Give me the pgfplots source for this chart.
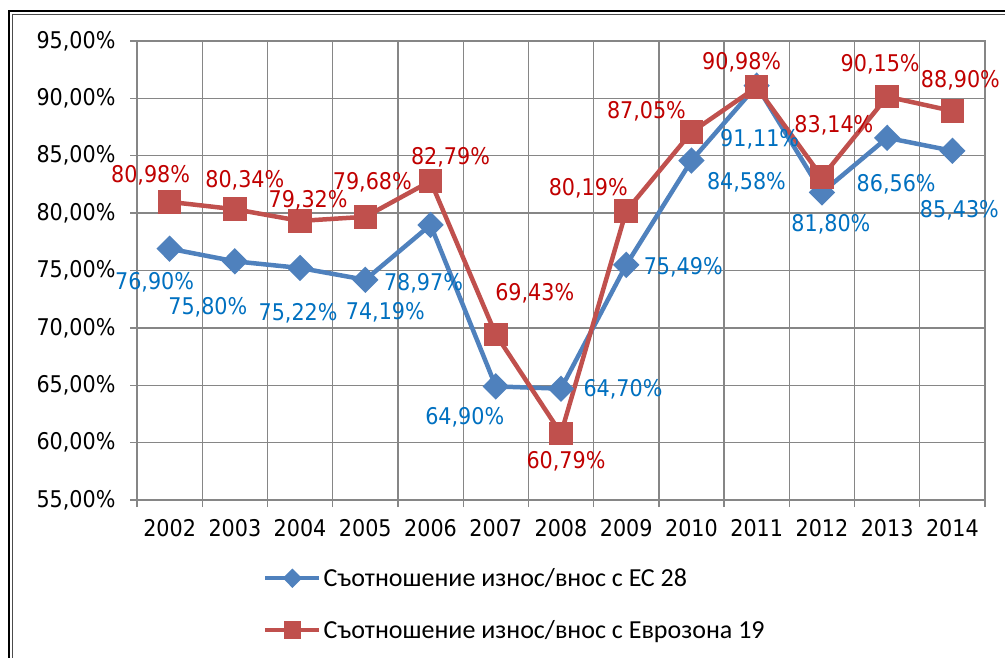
\documentclass[border=0pt]{standalone}
\usepackage{pgfplots}
\pgfplotsset{compat=1.18}
\usepackage{pgfplotstable}
\usepackage{fontspec}
\setmainfont{DejaVu Sans}[FakeStretch=0.9]
\newfontfamily\legfont{Carlito}
\definecolor{eublue}{RGB}{79,129,189}
\definecolor{ezred}{RGB}{192,80,77}
\definecolor{lblue}{RGB}{0,112,192}
\definecolor{lred}{RGB}{192,0,0}
\definecolor{gridgray}{RGB}{134,134,134}

\pgfplotstableread{
x y dx dy
0 76.90 -15 -34
1 75.80 -27 -46
2 75.22 -2 -45
3 74.19 20 -33
4 78.97 -7 -58
5 64.90 -31 -31
6 64.70 62 -1
7 75.49 57 -2
8 84.58 55 -22
9 91.11 3 -54
10 81.80 9 -32
11 86.56 9 -46
12 85.43 7 -59
}\eu
\pgfplotstableread{
x y dx dy
0 80.98 -19 27
1 80.34 10 29
2 79.32 8 21
3 79.68 7 34
4 82.79 20 24
5 69.43 39 41
6 60.79 5 -28
7 80.19 -38 23
8 87.05 -45 21
9 90.98 -15 25
10 83.14 12 52
11 90.15 -7 32
12 88.90 8 31
}\ez

\begin{document}
\begin{tikzpicture}[font=\fontsize{23bp}{27bp}\selectfont]
\path[use as bounding box] (0,0) rectangle (1005bp,658bp);
\draw[black, line width=2bp] (9bp,0) -- (9bp,647bp) -- (1005bp,647bp);
\draw[black!70, line width=0.8bp] (12.5bp,0) -- (12.5bp,644bp) -- (1005bp,644bp);
\begin{axis}[
  at={(137bp,158bp)}, anchor=south west,
  scale only axis, width=848bp, height=459bp,
  xmin=-0.5, xmax=12.5, ymin=55, ymax=95,
  xtick={0,1,2,3,4,5,6,7,8,9,10,11,12},
  xticklabels={2002,2003,2004,2005,2006,2007,2008,2009,2010,2011,2012,2013,2014},
  minor xtick={-0.5,0.5,1.5,2.5,3.5,4.5,5.5,6.5,7.5,8.5,9.5,10.5,11.5,12.5},
  major x tick style={draw=none},
  xminorgrids, ymajorgrids,
  ytick={55,60,65,70,75,80,85,90,95},
  yticklabel={\pgfmathprintnumber{\tick}\%},
  /pgf/number format/fixed,
  /pgf/number format/fixed zerofill,
  /pgf/number format/precision=2,
  /pgf/number format/use comma,
  /pgf/number format/assume math mode=true,
  tick align=outside, tick pos=left,
  major tick length=7bp, minor tick length=7bp,
  grid style={gridgray, line width=1.3bp},
  axis line style={gridgray, line width=1.3bp},
  every tick/.style={gridgray, line width=1.3bp},
  yticklabel style={anchor=east, xshift=-11bp},
  xticklabel style={anchor=north, yshift=-9bp},
  clip=false,
  legend style={draw=none, fill=none, at={(0.145,-0.14)}, anchor=north west,
    font=\legfont\fontsize{26bp}{30bp}\selectfont, row sep=28bp,
    nodes={inner sep=2bp, anchor=west}},
  legend cell align=left,
  legend image code/.code={\draw[mark repeat=2,mark phase=2, mark size=6.5bp]
     plot coordinates {(0bp,0bp) (27bp,0bp) (54bp,0bp)};},
]
\addplot[eublue, line width=4.5bp, mark=diamond*, mark size=10bp,
  mark options={xscale=1.33, solid},
  nodes near coords={\pgfmathprintnumber{\pgfplotspointmeta}\%}, point meta=y,
  visualization depends on={\thisrow{dx}\as\myxs},
  visualization depends on={\thisrow{dy}\as\myys},
  every node near coord/.append style={text=lblue, anchor=center, xshift=\myxs bp, yshift=\myys bp, inner sep=0pt}]
  table[x=x,y=y]{\eu};
\addlegendentry{Съотношение износ/внос с ЕС 28}
\addplot[ezred, line width=4.5bp, mark=square*, mark size=9.5bp,
  mark options={solid},
  nodes near coords={\pgfmathprintnumber{\pgfplotspointmeta}\%}, point meta=y,
  visualization depends on={\thisrow{dx}\as\myxs},
  visualization depends on={\thisrow{dy}\as\myys},
  every node near coord/.append style={text=lred, anchor=center, xshift=\myxs bp, yshift=\myys bp, inner sep=0pt}]
  table[x=x,y=y]{\ez};
\addlegendentry{Съотношение износ/внос с Еврозона 19}
\end{axis}
\end{tikzpicture}
\end{document}
